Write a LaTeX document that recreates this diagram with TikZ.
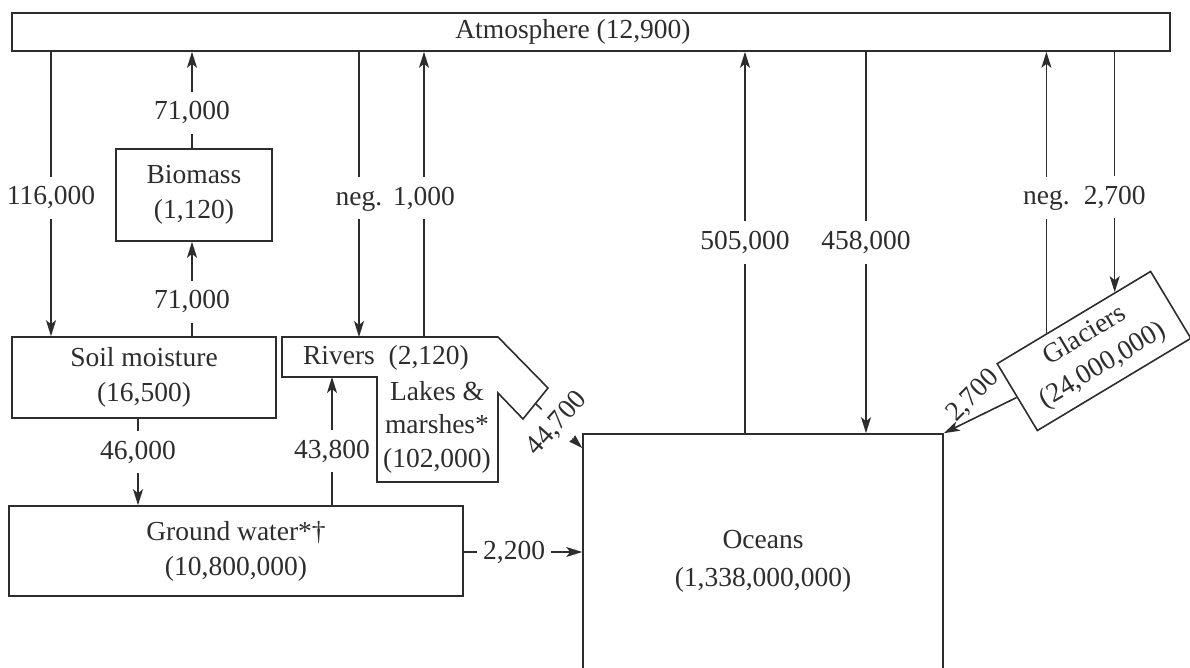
\documentclass[tikz,border=0pt]{standalone}
\usepackage{fontspec}
\setmainfont{Liberation Serif}
\usetikzlibrary{arrows.meta,calc}
\definecolor{ink}{RGB}{45,45,45}
\begin{document}
\begin{tikzpicture}[x=1pt,y=-1pt,
  every node/.style={font=\fontsize{27.5}{35}\selectfont, text=ink},
  box/.style={draw=ink, line width=1.6pt, align=center, inner sep=0pt},
  conn/.style={draw=ink, line width=1.6pt},
  arr/.style={conn, -{Stealth[length=16pt,width=10pt,inset=4pt]}},
  lbl/.style={fill=white, inner xsep=6pt, inner ysep=9pt, text height=19pt, text depth=5pt},
]
\useasboundingbox (0,0) rectangle (1190,668);
\clip (0,0) rectangle (1190,668);
\fill[white] (0,0) rectangle (1190,668);

% stores
\node[box, minimum width=1158pt, minimum height=38pt,
      label={[xshift=-18pt]center:Atmosphere (12,900)}] (atm) at (591,32) {};
\node[box, minimum width=156pt, minimum height=92pt] (bio) at (194,195) {Biomass\\(1,120)};
\node[box, minimum width=264pt, minimum height=81pt] (soil) at (144,377.5) {Soil moisture\\(16,500)};
\node[box, minimum width=454pt, minimum height=90pt] (gw) at (236,551) {Ground water*†\\(10,800,000)};
\node[box, minimum width=360pt, minimum height=254pt, font=\fontsize{27.5}{38}\selectfont] (oce) at (763,561) {Oceans\\(1,338,000,000)};
\node[box, minimum width=179pt, minimum height=78pt, rotate=31] (glac) at (1094,351) {Glaciers\\(24,000,000)};

% rivers / lakes shape
\draw[conn, line join=miter] (282,337) coordinate (rivNW) -- (498,337) -- (548,388) coordinate (sp1)
  -- (523,419) coordinate (sp2) -- (498,393) -- (498,482) -- (377,482) -- (377,377) coordinate (rivS)
  -- (282,377) -- cycle;
\node (rivtxt) at (386,358) {Rivers\ \ (2,120)};
\node[align=center, font=\fontsize{27.5}{33.5}\selectfont] (laketxt) at (437,427) {Lakes \&\\marshes*\\(102,000)};
\coordinate (spout) at ($(sp1)!0.5!(sp2)$);

% glacier anchor points
\coordinate (gA) at ($(glac.north west)!0.325!(glac.north east)$);
\coordinate (gB) at ($(glac.north west)!0.766!(glac.north east)$);

% flows
\draw[arr] (atm.south -| 51,0) -- node[lbl,pos=0.514]{116,000} (soil.north -| 51,0);
\draw[arr] (bio.north -| 192,0) -- node[lbl,pos=0.367]{71,000} (atm.south -| 192,0);
\draw[arr] (soil.north -| 192,0) -- node[lbl,pos=0.365]{71,000} (bio.south -| 192,0);
\draw[arr] (atm.south -| 359,0) -- node[lbl,pos=0.514]{neg.} (rivNW -| 359,0);
\draw[arr] (rivNW -| 424,0) -- node[lbl,pos=0.486]{1,000} (atm.south -| 424,0);
\draw[arr] (oce.north -| 745,0) -- node[lbl,pos=0.5]{505,000} (atm.south -| 745,0);
\draw[arr] (atm.south -| 866,0) -- node[lbl,pos=0.5]{458,000} (oce.north -| 866,0);
\draw[arr] (gA) -- node[lbl,pos=0.482]{neg.} (atm.south -| gA);
\draw[arr] (atm.south -| gB) -- node[lbl,pos=0.605]{2,700} (gB);
\draw[arr] (soil.south -| 138,0) -- node[lbl,pos=0.386]{46,000} (gw.north -| 138,0);
\draw[arr] (gw.north -| 332,0) -- node[lbl,pos=0.419]{43,800} (rivS -| 332,0);
\draw[arr] (gw.east |- 0,552) -- node[lbl,pos=0.425]{2,200} (oce.west |- 0,552);
\draw[arr] (spout) -- node[lbl,pos=0.46,rotate=48]{44,700} (oce.west |- 0,448);
\draw[arr] (glac.west) -- node[pos=0.6, yshift=23pt, rotate=45]{2,700} (oce.north east);
\end{tikzpicture}
\end{document}
